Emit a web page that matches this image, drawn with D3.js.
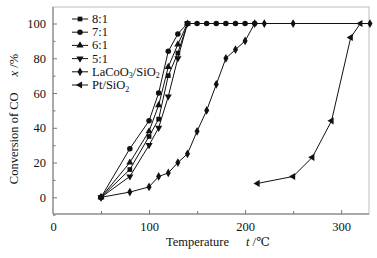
<!DOCTYPE html>
<html><head><meta charset="utf-8">
<script src="https://cdn.jsdelivr.net/npm/d3@7"></script>
<style>body{margin:0;background:#fff}svg{display:block}</style>
</head><body><svg id="c" width="377" height="258"></svg>
<script>
const seriesNames = ["8:1","7:1","6:1","5:1","LaCoO3/SiO2","Pt/SiO2"];
const t81 = [50,80,100,110,120,130,140];
const v81 = [0,16,35,45,70,83,100];
const t71 = [50,80,100,110,120,130,140,150,160,170,180,190,200,210];
const v71 = [0,28,44,60,84,94,100,100,100,100,100,100,100,100];
const t61 = [50,80,100,110,120,130,140];
const v61 = [0,20,38,53,75,88,100];
const t51 = [50,80,100,110,120,130,140];
const v51 = [0,12,30,40,58,80,100];
const tLa = [50,80,100,110,120,130,140,150,160,170,180,190,200,210,220,250,330];
const vLa = [0,3,6,12,14,20,25,38,50,65,80,85,90,100,100,100,100];
const tPt = [213,250,270,290,310,320];
const vPt = [8,12,23,44,92,100];
const xTicks = [0,100,200,300];
const xMinor = [50,150,250];
const yTicks = [0,20,40,60,80,100];
const yMinor = [-10,10,30,50,70,90];

const FONT = "'Liberation Serif','Times New Roman',Times,'DejaVu Serif',serif";
const svg = d3.select("#c").attr("font-family",FONT);
const L=53,R=369,T=7,B=214;
const x = d3.scaleLinear().domain([0,329]).range([L,R]);
const y = d3.scaleLinear().domain([-9.6,109.5]).range([B,T]);
const axCol="#777";

svg.append("rect").attr("x",L).attr("y",T).attr("width",R-L).attr("height",B-T)
  .attr("fill","none").attr("stroke","#bbb").attr("stroke-width",1);

const xAxis = svg.append("g").attr("transform",`translate(0,${B})`)
  .call(d3.axisBottom(x).tickValues(xTicks).tickSize(-4).tickPadding(8).tickFormat(d3.format("d")));
const xAxisMinor = svg.append("g").attr("transform",`translate(0,${B})`)
  .call(d3.axisBottom(x).tickValues(xMinor).tickSize(-3).tickFormat(""));
const yAxis = svg.append("g").attr("transform",`translate(${L},0)`)
  .call(d3.axisLeft(y).tickValues(yTicks).tickSize(-4).tickPadding(7).tickFormat(d3.format("d")));
const yAxisMinor = svg.append("g").attr("transform",`translate(${L},0)`)
  .call(d3.axisLeft(y).tickValues(yMinor).tickSize(-2.5).tickFormat(""));
[xAxis,xAxisMinor,yAxis,yAxisMinor].forEach(g=>{
  g.attr("font-family",FONT).attr("font-size",12.5);
  g.select(".domain").attr("stroke",axCol);
  g.selectAll(".tick line").attr("stroke",axCol);
  g.selectAll("text").attr("font-family",FONT).attr("fill","#111");
});
xAxis.select(".domain").attr("d",`M${L},0H${R}`);
yAxis.select(".domain").attr("d",`M0,${B}V${T}`);
xAxisMinor.select(".domain").remove(); yAxisMinor.select(".domain").remove();
xAxis.selectAll(".tick").filter(d=>d===0).select("line").remove();

const sym = [
  {type:d3.symbolSquare,size:22,rot:0},
  {type:d3.symbolCircle,size:24,rot:0},
  {type:d3.symbolTriangle,size:22,rot:0},
  {type:d3.symbolTriangle,size:22,rot:180},
  {type:d3.symbolDiamond,size:22,rot:0},
  {type:d3.symbolTriangle,size:22,rot:-90}
];
const data = [[t81,v81],[t71,v71],[t61,v61],[t51,v51],[tLa,vLa],[tPt,vPt]];
const line = d3.line().x(d=>x(d[0])).y(d=>y(d[1]));
data.forEach(([ts,vs],i)=>{
  const pts = ts.map((t,j)=>[t,vs[j]]);
  svg.append("path").datum(pts).attr("d",line).attr("fill","none").attr("stroke","#111").attr("stroke-width",1);
  svg.append("g").selectAll("path").data(pts).join("path")
    .attr("d",d3.symbol(sym[i].type,sym[i].size))
    .attr("transform",d=>`translate(${x(d[0])},${y(d[1])}) rotate(${sym[i].rot})`)
    .attr("fill","#111");
});

const lg = svg.append("g");
const ly0=19, ldy=13.2;
seriesNames.forEach((n,i)=>{
  const yy = ly0+i*ldy;
  lg.append("line").attr("x1",72).attr("x2",88).attr("y1",yy).attr("y2",yy).attr("stroke","#111");
  lg.append("path").attr("d",d3.symbol(sym[i].type,sym[i].size)()).attr("transform",`translate(80,${yy}) rotate(${sym[i].rot})`).attr("fill","#111");
  const tx = lg.append("text").attr("x",92).attr("y",yy+4).attr("font-family",FONT).attr("font-size",12.5).attr("fill","#111");
  if(n==="LaCoO3/SiO2"){
    tx.append("tspan").text("LaCoO");
    tx.append("tspan").text("3").attr("dy",2.5).attr("font-size",8);
    tx.append("tspan").text("/SiO").attr("dy",-2.5);
    tx.append("tspan").text("2").attr("dy",2.5).attr("font-size",8);
  } else if(n==="Pt/SiO2"){
    tx.append("tspan").text("Pt/SiO");
    tx.append("tspan").text("2").attr("dy",2.5).attr("font-size",8);
  } else tx.text(n);
});

const xl = svg.append("text").attr("x",218).attr("y",246).attr("text-anchor","middle").attr("font-family",FONT).attr("font-size",12.5).attr("fill","#111");
xl.append("tspan").text("Temperature");
xl.append("tspan").text("t").attr("dx",17).attr("font-style","italic");
xl.append("tspan").text(" /℃");
const yl = svg.append("text").attr("transform","translate(18,119) rotate(-90)").attr("text-anchor","middle").attr("font-family",FONT).attr("font-size",12.5).attr("fill","#111");
yl.append("tspan").text("Conversion of CO");
yl.append("tspan").text("x").attr("dx",16).attr("font-style","italic");
yl.append("tspan").text(" /%");
</script></body></html>
